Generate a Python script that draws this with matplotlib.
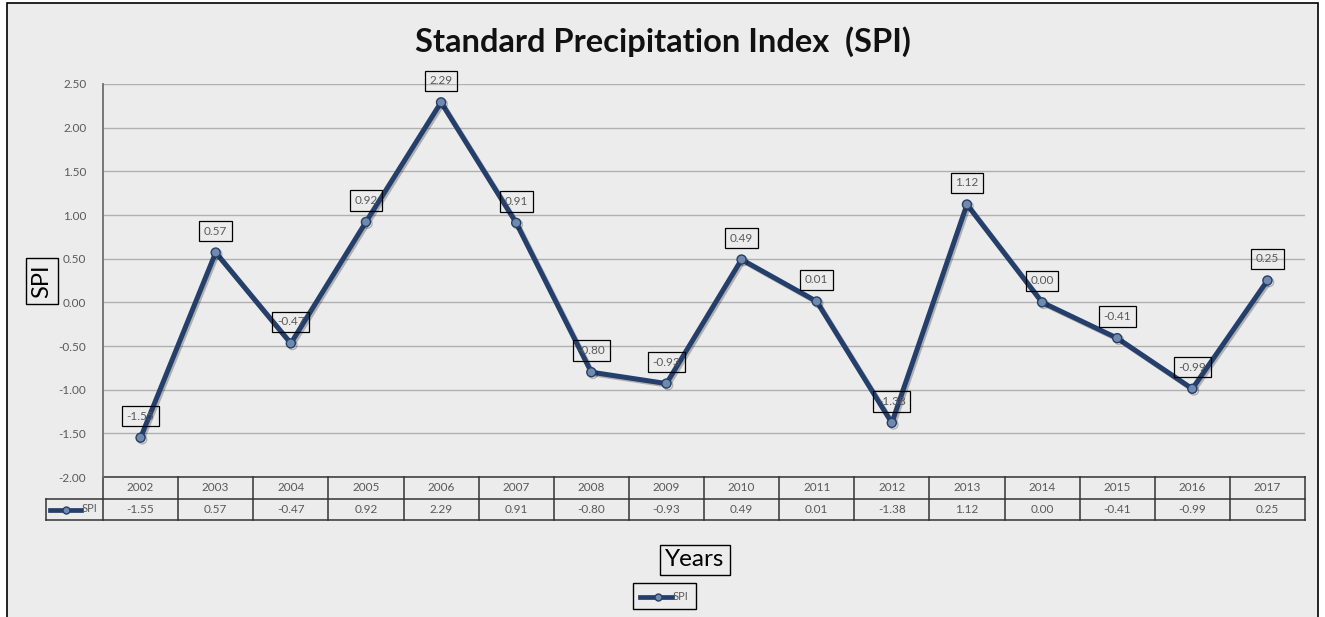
import numpy as np
import matplotlib.pyplot as plt
from matplotlib.patches import Rectangle
from matplotlib.lines import Line2D
import matplotlib.patheffects as pe

plt.rcParams['font.family'] = ['Lato', 'DejaVu Sans']

# -----------------------------
# Data
# -----------------------------
years = ['2002', '2003', '2004', '2005', '2006', '2007', '2008', '2009',
         '2010', '2011', '2012', '2013', '2014', '2015', '2016', '2017']
spi = [-1.55, 0.57, -0.47, 0.92, 2.29, 0.91, -0.80, -0.93,
       0.49, 0.01, -1.38, 1.12, 0.00, -0.41, -0.99, 0.25]
yticks = [-2.0, -1.5, -1.0, -0.5, 0.0, 0.5, 1.0, 1.5, 2.0, 2.5]

W, H = 1325, 617
navy = '#243f6b'
marker_face = '#7189ad'
bg = '#ececec'
gray_txt = '#595959'

fig = plt.figure(figsize=(W / 100, H / 100), dpi=100, facecolor='white')

# outer chart frame (pixel coords converted to figure fraction)
def fx(px): return px / W
def fy(py): return 1 - py / H

fig.patches.append(Rectangle((fx(7), fy(625)), fx(1318) - fx(7), fy(3) - fy(625),
                             transform=fig.transFigure, facecolor=bg,
                             edgecolor='black', linewidth=1.2, zorder=-5))

left, right, top, bottom = 103, 1305, 84, 477
ax = fig.add_axes([fx(left), fy(bottom), fx(right) - fx(left), fy(top) - fy(bottom)])
ax.set_facecolor('none')
ax.set_zorder(2)

x = np.arange(len(years))
ax.plot(x, spi, color=navy, lw=3.6, marker='o', ms=6.5, mfc=marker_face,
        mec=navy, mew=1.0, solid_joinstyle='round', zorder=3,
        path_effects=[pe.SimpleLineShadow(offset=(1.2, -1.2), alpha=0.25), pe.Normal()])

for xi, v in zip(x, spi):
    ax.annotate(f'{v:.2f}', (xi, v), xytext=(0, 15.5), textcoords='offset points',
                ha='center', va='center', fontsize=8.5, color=gray_txt, zorder=4,
                bbox=dict(boxstyle='square,pad=0.4', fc='none', ec='black', lw=0.9))

ax.set_xlim(-0.5, len(years) - 0.5)
ax.set_ylim(-2.0, 2.5)
ax.set_yticks(yticks)
ax.set_yticklabels([f'{t:.2f}' for t in yticks], fontsize=8.5, color=gray_txt)
ax.set_xticks([])
ax.tick_params(axis='y', length=0, pad=12)
ax.grid(axis='y', color='#b0b0b0', lw=1.0)
for s in ['top', 'right', 'bottom']:
    ax.spines[s].set_visible(False)
ax.spines['left'].set_color('#6e6e6e')
ax.spines['left'].set_linewidth(1.3)

# -----------------------------
# Data table under the axis
# -----------------------------
row_h = 21.5 / (bottom - top)
key_left = -(left - 46) / (right - left)
tkw = dict(transform=ax.transAxes, clip_on=False, color='#333333', lw=1.1)
ax.add_line(Line2D([0, 1], [0, 0], **tkw))
ax.add_line(Line2D([key_left, 1], [-row_h, -row_h], **tkw))
ax.add_line(Line2D([key_left, 1], [-2 * row_h, -2 * row_h], **tkw))
ax.add_line(Line2D([key_left] * 2, [-row_h, -2 * row_h], **tkw))
n = len(years)
for i in range(n + 1):
    ax.add_line(Line2D([i / n, i / n], [0, -2 * row_h], **tkw))
for i, (yr, v) in enumerate(zip(years, spi)):
    ax.text((i + 0.5) / n, -0.5 * row_h, yr, transform=ax.transAxes,
            ha='center', va='center', fontsize=8.5, color=gray_txt)
    ax.text((i + 0.5) / n, -1.5 * row_h, f'{v:.2f}', transform=ax.transAxes,
            ha='center', va='center', fontsize=8.5, color=gray_txt)

# legend key in table row
fig.add_artist(Line2D([fx(50), fx(81)], [fy(509.5)] * 2, color=navy, lw=3.4,
                      transform=fig.transFigure))
fig.add_artist(Line2D([fx(66)], [fy(509.5)], marker='o', ms=5, mfc=marker_face,
                      mec=navy, transform=fig.transFigure))
fig.text(fx(82), fy(508), 'SPI', fontsize=8, color=gray_txt, ha='left', va='center')

# -----------------------------
# Titles / labels
# -----------------------------
fig.text(fx(663), fy(42), 'Standard Precipitation Index  (SPI)', fontsize=23.5,
         fontweight='bold', ha='center', va='center', color='#111111')
fig.text(fx(42), fy(281), 'SPI', fontsize=17, rotation=90, ha='center', va='center',
         bbox=dict(boxstyle='square,pad=0.25', fc='none', ec='black', lw=1.0))
fig.text(fx(695), fy(560), 'Years', fontsize=17.5, ha='center', va='center',
         bbox=dict(boxstyle='square,pad=0.2', fc='none', ec='black', lw=1.0))

# bottom legend
fig.patches.append(Rectangle((fx(633), fy(609)), fx(696) - fx(633), fy(583) - fy(609),
                             transform=fig.transFigure, fc='none', ec='black', lw=1.0))
fig.add_artist(Line2D([fx(640), fx(672)], [fy(597)] * 2, color=navy, lw=3.4,
                      transform=fig.transFigure))
fig.add_artist(Line2D([fx(658)], [fy(597)], marker='o', ms=5, mfc=marker_face,
                      mec=navy, transform=fig.transFigure))
fig.text(fx(673), fy(596), 'SPI', fontsize=8, color=gray_txt, ha='left', va='center')

fig.savefig('out.png', dpi=100, facecolor='white')
